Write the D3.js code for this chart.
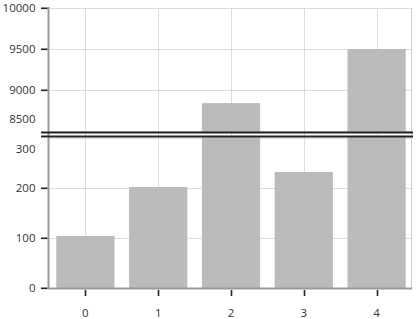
<!DOCTYPE html>
<html lang="en">
<head>
    <meta charset="UTF-8">
    <title>Broken axis bars</title>
    <script src="https://d3js.org/d3.v7.min.js"></script>
</head>
<style type="text/css">
    body { margin: 0; background: white; }
    svg text { font-family: "Open Sans", "Noto Sans", sans-serif; font-size: 11px; fill: #333; }
</style>
<body>
<div id="chart"></div>

<script>
    // data
    var categories = ["0", "1", "2", "3", "4"];
    var values = [104, 202, 8840, 232, 9500];
    var lowerTicks = [0, 100, 200, 300];
    var upperTicks = [8500, 9000, 9500, 10000];

    var width = 417, height = 319;
    var plotLeft = 49, plotRight = 411, plotBottom = 288, plotTop = 8;
    var breakTop = 132.5, breakBot = 136.5;

    var svg = d3.select("#chart").append("svg")
        .attr("width", width).attr("height", height);

    var x = d3.scaleBand().domain(categories)
        .range([plotLeft, 413]).paddingInner(0.2).paddingOuter(0.1);

    var yTop = d3.scaleLinear().domain([8500, 10000]).range([131, plotTop]);
    var yBot = d3.scaleLinear().domain([0, 300]).range([plotBottom, 138]);

    function cx(d) { return Math.round(x(d) + x.bandwidth() / 2); }

    var defs = svg.append("defs");
    defs.append("clipPath").attr("id", "clipTop").append("rect")
        .attr("x", plotLeft).attr("y", plotTop).attr("width", plotRight - plotLeft).attr("height", breakTop - plotTop);
    defs.append("clipPath").attr("id", "clipBot").append("rect")
        .attr("x", plotLeft).attr("y", breakBot).attr("width", plotRight - plotLeft).attr("height", plotBottom - breakBot);

    // grid
    var grid = svg.append("g");
    grid.selectAll(".gx").data(categories).enter().append("line")
        .attr("x1", function (d) { return cx(d) + 0.5; }).attr("x2", function (d) { return cx(d) + 0.5; })
        .attr("y1", plotTop).attr("y2", plotBottom)
        .style("stroke", "#dcdcdc").style("stroke-width", 1);
    grid.selectAll(".gyt").data(upperTicks).enter().append("line")
        .attr("x1", plotLeft).attr("x2", plotRight)
        .attr("y1", function (d) { return Math.round(yTop(d)) + 0.5; })
        .attr("y2", function (d) { return Math.round(yTop(d)) + 0.5; })
        .style("stroke", "#dcdcdc");
    grid.selectAll(".gyb").data(lowerTicks).enter().append("line")
        .attr("x1", plotLeft).attr("x2", plotRight)
        .attr("y1", function (d) { return Math.round(yBot(d)) + 0.5; })
        .attr("y2", function (d) { return Math.round(yBot(d)) + 0.5; })
        .style("stroke", "#dcdcdc");

    // bars, drawn in both panels and clipped
    svg.append("g").attr("clip-path", "url(#clipTop)")
        .selectAll("rect").data(values).enter().append("rect")
        .attr("x", function (d, i) { return x(categories[i]); })
        .attr("width", x.bandwidth())
        .attr("y", function (d) { return yTop(d); })
        .attr("height", function (d) { return Math.max(0, 140 - yTop(d)); })
        .style("fill", "#bbbbbb");

    svg.append("g").attr("clip-path", "url(#clipBot)")
        .selectAll("rect").data(values).enter().append("rect")
        .attr("x", function (d, i) { return x(categories[i]); })
        .attr("width", x.bandwidth())
        .attr("y", function (d) { return Math.max(120, yBot(d)); })
        .attr("height", function (d) { return plotBottom - Math.max(120, yBot(d)); })
        .style("fill", "#bbbbbb");

    // frame
    svg.append("line").attr("x1", plotRight + 0.5).attr("x2", plotRight + 0.5)
        .attr("y1", plotTop).attr("y2", plotBottom)
        .style("stroke", "#cccccc");
    svg.append("line").attr("x1", plotLeft - 0.5).attr("x2", plotLeft - 0.5)
        .attr("y1", plotTop - 1).attr("y2", plotBottom + 1)
        .style("stroke", "#9a9a9a").style("stroke-width", 2);
    svg.append("line").attr("x1", plotLeft - 1).attr("x2", plotRight + 1)
        .attr("y1", plotBottom + 0.5).attr("y2", plotBottom + 0.5)
        .style("stroke", "#9a9a9a").style("stroke-width", 2);

    // tick marks as small rects (the break-side ticks 8500 / 300 have none)
    var tickG = svg.append("g");
    var yTickPos = upperTicks.filter(function (d) { return d !== 8500; }).map(function (d) { return Math.round(yTop(d)); })
        .concat(lowerTicks.filter(function (d) { return d !== 300; }).map(function (d) { return Math.round(yBot(d)); }));
    tickG.selectAll(".ty").data(yTickPos).enter().append("rect")
        .attr("x", 41).attr("y", function (d) { return d - 0.5; })
        .attr("width", 6.5).attr("height", 1.6)
        .attr("fill", "#222");
    tickG.selectAll(".tx").data(categories).enter().append("rect")
        .attr("x", function (d) { return cx(d) - 0.3; }).attr("y", plotBottom + 2)
        .attr("width", 1.6).attr("height", 6)
        .attr("fill", "#222");

    // axis labels
    function styleAxis(g) {
        g.select(".domain").remove();
        g.selectAll(".tick line").remove();
        g.selectAll(".tick text").style("font-size", "11.5px").style("fill", "#333")
            .style("font-family", "'Open Sans', 'Noto Sans', sans-serif");
    }

    var axTop = svg.append("g").attr("transform", "translate(" + (plotLeft - 1.5) + ",0)")
        .call(d3.axisLeft(yTop).tickValues(upperTicks).tickSize(0).tickPadding(12).tickFormat(d3.format("d")))
        .call(styleAxis);
    // label of the tick on the break is lifted above it
    axTop.selectAll(".tick text").filter(function (d) { return d === 8500; })
        .attr("dy", "-0.75em");

    var axBot = svg.append("g").attr("transform", "translate(" + (plotLeft - 1.5) + ",0)")
        .call(d3.axisLeft(yBot).tickValues(lowerTicks).tickSize(0).tickPadding(12).tickFormat(d3.format("d")))
        .call(styleAxis);
    axBot.selectAll(".tick text").filter(function (d) { return d === 300; })
        .attr("dy", "1.3em");

    svg.append("g").attr("transform", "translate(0," + (plotBottom + 1.5) + ")")
        .call(d3.axisBottom(x).tickSize(0).tickPadding(19))
        .call(styleAxis);

    // break marks
    [breakTop, breakBot].forEach(function (yy) {
        svg.append("line").attr("x1", 41).attr("x2", 413)
            .attr("y1", yy).attr("y2", yy)
            .style("stroke", "#222").style("stroke-width", 1.8);
    });
</script>
</body>
</html>
